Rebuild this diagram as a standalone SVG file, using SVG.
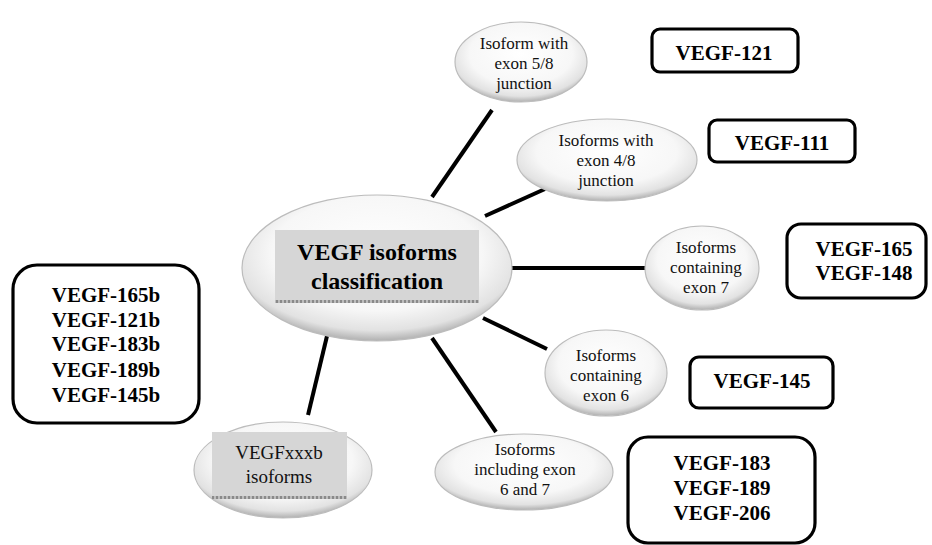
<svg xmlns="http://www.w3.org/2000/svg" width="932" height="545" viewBox="0 0 932 545">
<defs>
<radialGradient id="bub" cx="50%" cy="40%" r="60%">
<stop offset="0" stop-color="#ffffff"/>
<stop offset="0.65" stop-color="#f7f7f7"/>
<stop offset="0.88" stop-color="#e2e2e2"/>
<stop offset="1" stop-color="#b0b0b0"/>
</radialGradient>
<pattern id="stripe" width="4" height="4" patternUnits="userSpaceOnUse">
<rect width="4" height="4" fill="#bdbdbd"/>
<rect width="2" height="4" fill="#8a8a8a"/>
</pattern>
</defs>
<style>
.ell{fill:url(#bub);stroke:#bcbcbc;stroke-width:1.2}
.lbl{fill:#d6d6d6}
.conn line{stroke:#000;stroke-width:4;stroke-linecap:butt}
.box{fill:#fff;stroke:#000;stroke-width:3.2}
.t{font-family:"Liberation Serif","Times New Roman",serif;font-size:17px;fill:#111;text-anchor:middle}
.b{font-family:"Liberation Serif","Times New Roman",serif;font-size:21px;font-weight:bold;fill:#000;text-anchor:middle}
.c{font-family:"Liberation Serif","Times New Roman",serif;font-size:24px;font-weight:bold;fill:#000;text-anchor:middle}
</style>
<rect width="932" height="545" fill="#fff"/>
<g id="connectors" class="conn">
<line x1="432" y1="197" x2="492" y2="110"/>
<line x1="485" y1="216" x2="545" y2="189"/>
<line x1="510" y1="268" x2="646" y2="268"/>
<line x1="483" y1="318" x2="547" y2="349"/>
<line x1="432" y1="338" x2="496" y2="432"/>
<line x1="327" y1="336" x2="308" y2="415"/>
</g>
<g id="center">
<ellipse class="ell" cx="377" cy="268" rx="135" ry="73"/>
<rect class="lbl" x="275" y="230" width="204" height="72"/>
<rect x="275" y="300" width="204" height="3" fill="url(#stripe)"/>
<text class="c" x="377" y="260">VEGF isoforms</text>
<text class="c" x="377" y="289">classification</text>
</g>
<g id="n-exon58">
<ellipse class="ell" cx="521" cy="62" rx="66" ry="40"/>
<text class="t" x="524" y="49">Isoform with</text>
<text class="t" x="524" y="69">exon 5/8</text>
<text class="t" x="524" y="89">junction</text>
</g>
<g id="n-exon48">
<ellipse class="ell" cx="607" cy="160" rx="90" ry="41"/>
<text class="t" x="606" y="146">Isoforms with</text>
<text class="t" x="606" y="166">exon 4/8</text>
<text class="t" x="606" y="186">junction</text>
</g>
<g id="n-exon7">
<ellipse class="ell" cx="702" cy="268" rx="57" ry="42"/>
<text class="t" x="706" y="253">Isoforms</text>
<text class="t" x="706" y="273">containing</text>
<text class="t" x="706" y="293">exon 7</text>
</g>
<g id="n-exon6">
<ellipse class="ell" cx="606" cy="373" rx="61" ry="43"/>
<text class="t" x="606" y="361">Isoforms</text>
<text class="t" x="606" y="381">containing</text>
<text class="t" x="606" y="401">exon 6</text>
</g>
<g id="n-exon67">
<ellipse class="ell" cx="524" cy="472" rx="89" ry="38"/>
<text class="t" x="525" y="455">Isoforms</text>
<text class="t" x="525" y="475">including exon</text>
<text class="t" x="525" y="495">6 and 7</text>
</g>
<g id="n-xxxb">
<ellipse class="ell" cx="283" cy="470" rx="89" ry="48"/>
<rect class="lbl" x="212" y="432" width="135" height="66"/>
<rect x="212" y="496" width="135" height="3" fill="url(#stripe)"/>
<text class="t" x="279" y="459" style="font-size:19px">VEGFxxxb</text>
<text class="t" x="279" y="483" style="font-size:19px">isoforms</text>
</g>
<g id="b-121">
<rect class="box" x="652" y="29" width="146" height="43" rx="8"/>
<text class="b" x="724" y="60">VEGF-121</text>
</g>
<g id="b-111">
<rect class="box" x="709" y="120" width="146" height="42" rx="8"/>
<text class="b" x="782" y="150">VEGF-111</text>
</g>
<g id="b-165">
<rect class="box" x="787" y="224" width="139" height="74" rx="14"/>
<text class="b" x="864" y="256">VEGF-165</text>
<text class="b" x="864" y="280">VEGF-148</text>
</g>
<g id="b-145">
<rect class="box" x="690" y="357" width="143" height="51" rx="9"/>
<text class="b" x="762" y="388">VEGF-145</text>
</g>
<g id="b-183">
<rect class="box" x="628" y="437" width="187" height="106" rx="20"/>
<text class="b" x="722" y="470">VEGF-183</text>
<text class="b" x="722" y="495">VEGF-189</text>
<text class="b" x="722" y="520">VEGF-206</text>
</g>
<g id="b-xxxb">
<rect class="box" x="13" y="265" width="186" height="158" rx="24"/>
<text class="b" x="106" y="302">VEGF-165b</text>
<text class="b" x="106" y="327">VEGF-121b</text>
<text class="b" x="106" y="351">VEGF-183b</text>
<text class="b" x="106" y="377">VEGF-189b</text>
<text class="b" x="106" y="402">VEGF-145b</text>
</g>
</svg>
